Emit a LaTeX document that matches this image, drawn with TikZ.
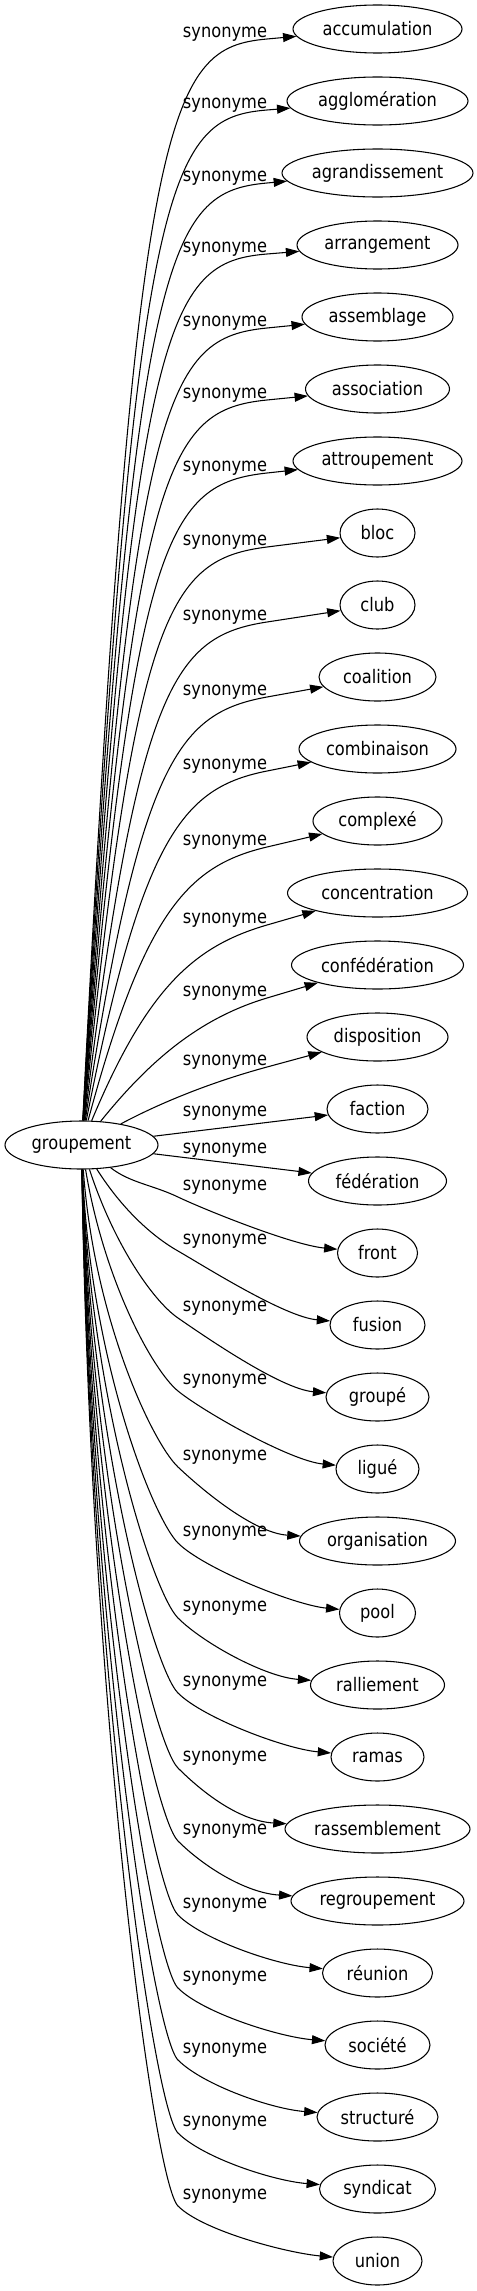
\documentclass[tikz,border=0pt]{standalone}
\usepackage{fontspec}
\setmainfont[FakeStretch=0.87]{DejaVu Sans}
\usetikzlibrary{arrows.meta,calc,shapes.geometric}
\begin{document}
\begin{tikzpicture}[x=0.75pt,y=-0.75pt,
  nd/.style={draw, ellipse, line width=0.8pt, minimum height=36pt, inner sep=0pt,
             font=\fontsize{14pt}{16pt}\selectfont},
  lbl/.style={inner sep=0pt, font=\fontsize{14pt}{16pt}\selectfont},
  edge/.style={draw, line width=0.8pt, -{Triangle[length=10pt,width=6.7pt]}}]
\useasboundingbox (0,0) rectangle (477,2291);
\node[nd, minimum width=114.75pt] (g) at (81.5,1145) {groupement};
% upper curved edges
\foreach \nm/\txt/\w/\yl [count=\i from 0] in {
  acc/accumulation/169/34, aggl/agglomération/181/105, agra/agrandissement/191/178,
  arra/arrangement/161/249, asse/assemblage/151/323, asso/association/144/395,
  attr/attroupement/169/468, bloc/bloc/75/542, club/club/75/617,
  coal/coalition/117/692, comb/combinaison/157/766, compl/complexé/129/842,
  conc/concentration/180/920, conf/confédération/172/993, disp/disposition/141/1062}{
  \pgfmathsetmacro\wpt{\w*0.75}
  \pgfmathsetmacro\ytg{29+72*\i}
  \node[nd, minimum width=\wpt pt] (\nm) at (377.5,\ytg) {\txt};
  \node[lbl] (l\i) at (225,\yl) {synonyme};
  \pgfmathsetmacro\py{\yl+5}
  \pgfmathsetmacro\dd{1122-\py}
  \pgfmathsetmacro\ff{min(1,max(0,(\dd-100)/500))}
  \pgfmathsetmacro\cxa{150-15*\ff}
  \pgfmathsetmacro\cya{\py+min(63,0.75*\dd)}
  \pgfmathsetmacro\kf{-(0.6+0.3*\ff)}
  \draw[edge] (g) .. controls (\cxa,\cya) and ($(267,\py)!\kf!(\nm.center)$) .. (267,\py) -- (\nm);
}
% two straight edges
\node[nd, minimum width=75.75pt] (fact) at (377.5,1109) {faction};
\node[lbl] (l15) at (225,1113) {synonyme};
\draw[edge] (g) -- (fact);
\node[nd, minimum width=103.5pt] (fede) at (377.5,1181) {fédération};
\node[lbl] (l16) at (225,1150) {synonyme};
\draw[edge] (g) -- (fede);
% lower curved edges
\foreach \nm/\txt/\w/\yl [count=\i from 17] in {
  front/front/80/1187, fusion/fusion/95/1241, groupe/groupé/103/1308,
  ligue/ligué/83/1381, orga/organisation/156/1457, pool/pool/76/1533,
  rall/ralliement/134/1608, ramas/ramas/93/1683, rass/rassemblement/185/1758,
  regr/regroupement/173/1831, reun/réunion/110/1905, soci/société/105/1978,
  stru/structuré/121/2050, synd/syndicat/116/2123, union/union/89/2196}{
  \pgfmathsetmacro\wpt{\w*0.75}
  \pgfmathsetmacro\ytg{29+72*\i}
  \node[nd, minimum width=\wpt pt] (\nm) at (377.5,\ytg) {\txt};
  \node[lbl] (l\i) at (225,\yl) {synonyme};
  \pgfmathsetmacro\ky{\yl+10}
  \pgfmathsetmacro\dp{\ky-1168}
  \pgfmathsetmacro\gg{min(1,max(0,(\dp-30)/300))}
  \pgfmathsetmacro\cxa{90+40*(1-\gg)}
  \pgfmathsetmacro\cya{1168+0.51*\dp}
  \pgfmathsetmacro\tdy{12+13*\gg}
  \draw[edge] (g) .. controls (\cxa,\cya) and (153,\ky-\tdy) .. (178,\ky)
     .. controls (203,\ky+\tdy) and ($(\nm.west)+(-45,-8)$) .. (\nm);
}
\end{tikzpicture}
\end{document}
